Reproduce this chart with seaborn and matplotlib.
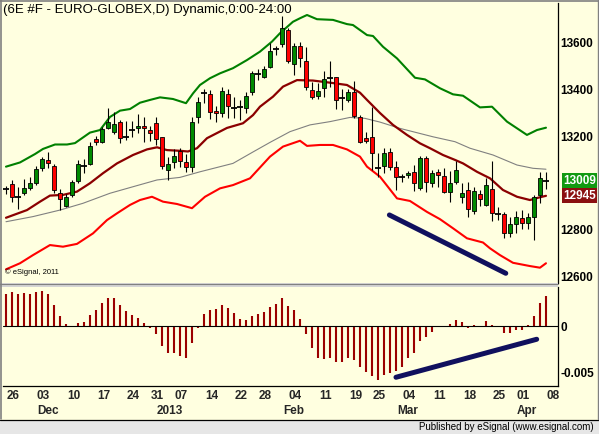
import matplotlib
matplotlib.use("Agg")
import matplotlib.pyplot as plt
import matplotlib.transforms as mtransforms
from matplotlib.lines import Line2D
from matplotlib.patches import Rectangle
import seaborn as sns

# --- daily candles, 26 Nov 2012 .. 08 Apr 2013 (bar index 0..90) ---
opens = [12973, 12994, 12941, 12956, 12980, 12999, 13063, 13099, 13073, 12958,
         12901, 12949, 13010, 13074, 13081, 13188, 13177, 13237, 13220, 13260,
         13198, 13227, 13237, 13243, 13227, 13258, 13196, 13056, 13089, 13137,
         13088, 13070, 13282, 13384, 13380, 13310, 13299, 13380, 13323, 13327,
         13320, 13389, 13466, 13453, 13496, 13573, 13596, 13656, 13510, 13587,
         13523, 13399, 13374, 13406, 13451, 13453, 13363, 13356, 13391, 13284,
         13191, 13196, 13063, 13073, 13134, 13067, 13024, 13033, 13046, 12977,
         13106, 12999, 13049, 13030, 12963, 13006, 12939, 12970, 12881, 12953,
         12906, 12973, 12866, 12867, 12787, 12823, 12851, 12830, 12856, 12949,
         13009]
highs = [12987, 13013, 12984, 13017, 13024, 13074, 13113, 13132, 13080, 12973,
         12952, 13013, 13099, 13103, 13174, 13201, 13241, 13320, 13306, 13270,
         13266, 13266, 13296, 13282, 13244, 13284, 13196, 13110, 13144, 13151,
         13125, 13282, 13367, 13403, 13399, 13331, 13410, 13403, 13367, 13356,
         13391, 13481, 13487, 13501, 13599, 13587, 13716, 13663, 13599, 13603,
         13584, 13434, 13430, 13480, 13523, 13456, 13401, 13403, 13438, 13291,
         13220, 13327, 13127, 13149, 13149, 13096, 13039, 13053, 13077, 13116,
         13116, 13056, 13059, 13063, 13053, 13096, 13001, 13006, 12984, 12970,
         13020, 13096, 12898, 12877, 12853, 12881, 12884, 12873, 12949, 13046,
         13046]
lows = [12953, 12920, 12887, 12949, 12970, 12991, 13053, 13063, 12956, 12884,
        12898, 12941, 13001, 13042, 13077, 13163, 13170, 13231, 13210, 13173,
        13184, 13196, 13216, 13177, 13180, 13163, 13059, 13013, 13063, 13070,
        13048, 13048, 13258, 13342, 13273, 13263, 13284, 13280, 13277, 13270,
        13299, 13377, 13441, 13449, 13492, 13549, 13584, 13513, 13463, 13498,
        13399, 13359, 13359, 13370, 13410, 13316, 13313, 13349, 13277, 13170,
        13170, 13056, 13024, 13044, 13056, 12970, 13006, 13023, 12967, 12970,
        12963, 12984, 12981, 12956, 12920, 12996, 12916, 12855, 12867, 12901,
        12901, 12838, 12841, 12763, 12767, 12784, 12801, 12801, 12756, 12913,
        12973]
closes = [12973, 12939, 12941, 12977, 12999, 13060, 13101, 13084, 12970, 12931,
          12941, 13004, 13080, 13074, 13160, 13174, 13230, 13260, 13252, 13192,
          13198, 13227, 13246, 13234, 13213, 13187, 13073, 13080, 13117, 13094,
          13067, 13260, 13346, 13384, 13306, 13299, 13394, 13330, 13323, 13327,
          13374, 13470, 13466, 13490, 13567, 13573, 13663, 13524, 13587, 13534,
          13410, 13370, 13396, 13444, 13451, 13356, 13363, 13389, 13287, 13177,
          13181, 13127, 13063, 13127, 13067, 13024, 13024, 13044, 12999, 13106,
          13006, 13041, 13034, 12963, 12999, 13056, 12958, 12887, 12967, 12930,
          12991, 12873, 12866, 12784, 12824, 12856, 12827, 12853, 12941, 13020,
          13009]

# --- envelope lines (bar index, price) ---
upper_x = [0, 2.33, 4.83, 6.17, 8.17, 10.17, 11.5, 12.33, 14, 15.67, 17.33, 19,
           20.67, 22.33, 24, 25.67, 27.83, 30, 31.17, 32.33, 34, 35.67, 37.83,
           40.17, 42.33, 44.33, 45.67, 47.83, 49, 50.17, 51.83, 54.5, 56.83,
           57.83, 60.17, 61.17, 62.83, 65.17, 68.17, 69.83, 72.33, 74.5, 76.17,
           79, 81, 83.5, 86.83, 88.5, 90]
upper_y = [13070, 13088, 13124, 13146, 13165, 13165, 13171, 13186, 13216, 13227,
           13283, 13310, 13317, 13344, 13356, 13367, 13360, 13342, 13384, 13420,
           13449, 13470, 13492, 13527, 13563, 13606, 13642, 13691, 13706, 13720,
           13702, 13699, 13681, 13677, 13634, 13630, 13584, 13534, 13451, 13444,
           13406, 13380, 13374, 13324, 13327, 13263, 13206, 13227, 13237]

ma_x = [0, 3.5, 5.67, 7.33, 9.5, 11.83, 14, 16.17, 18.5, 21.17, 23.5, 25.17,
        26.83, 29, 30.33, 31.83, 33.5, 36.83, 39.5, 41.17, 42.33, 44.5, 46.17,
        48.5, 51.17, 54, 56.83, 59, 60.17, 62.33, 64.5, 66.83, 69, 70.67, 72.83,
        74.83, 76.17, 78.5, 80.67, 82.83, 85.17, 87.33, 89, 90]
ma_y = [12851, 12884, 12920, 12946, 12949, 12963, 12999, 13042, 13084, 13120,
        13144, 13153, 13141, 13138, 13135, 13149, 13192, 13236, 13256, 13291,
        13327, 13370, 13413, 13441, 13439, 13430, 13420, 13387, 13356, 13300,
        13249, 13206, 13170, 13149, 13120, 13099, 13084, 13048, 13020, 12970,
        12941, 12927, 12939, 12945]

slow_x = [0, 4.5, 9, 12.83, 17.33, 21.17, 25.17, 29, 32.33, 37.83, 41.17, 44,
          47.33, 50.67, 54, 57.33, 59.83, 62.33, 65.67, 71.17, 74.83, 77.33,
          81.17, 85.17, 87.83, 90]
slow_y = [12834, 12856, 12884, 12913, 12956, 12984, 13013, 13024, 13048, 13084,
          13133, 13174, 13220, 13249, 13263, 13281, 13277, 13261, 13234, 13198,
          13177, 13149, 13120, 13077, 13063, 13059]

lower_x = [0, 2.33, 4.5, 7.33, 9.5, 11.83, 14.5, 16.83, 18.5, 20.67, 22.33,
           24.33, 26.17, 28.5, 31, 33.17, 35.67, 37.83, 40.67, 44, 46.17, 49,
           50.17, 52.33, 54.5, 56.83, 59, 60.17, 62.33, 65.17, 67.33, 70.17,
           72.33, 74.5, 76.83, 79.5, 80.67, 82.33, 84.5, 87.33, 89, 90]
lower_y = [12630, 12656, 12691, 12734, 12727, 12739, 12784, 12841, 12870, 12906,
           12927, 12941, 12920, 12910, 12892, 12941, 12977, 12991, 13020, 13113,
           13156, 13181, 13159, 13163, 13163, 13144, 13113, 13070, 13027, 12934,
           12923, 12876, 12845, 12806, 12763, 12745, 12720, 12691, 12658, 12644,
           12637, 12656]

# --- oscillator histogram ---
osc = [0.00343, 0.00364, 0.00343, 0.00350, 0.00343, 0.00364, 0.00375, 0.00343,
       0.00225, 0.00107, 0.00021, -0.00005, 0.00035, 0.00046, 0.00118, 0.00171,
       0.00249, 0.00297, 0.00297, 0.00225, 0.00161, 0.00118, 0.00082, 0.00035,
       -0.00025, -0.00089, -0.00211, -0.00286, -0.00292, -0.00318, -0.00339,
       -0.00185, -0.00018, 0.00128, 0.00171, 0.00182, 0.00225, 0.00190, 0.00136,
       0.00075, 0.00064, 0.00107, 0.00128, 0.00147, 0.00200, 0.00236, 0.00300,
       0.00214, 0.00171, 0.00072, -0.00089, -0.00239, -0.00339, -0.00353,
       -0.00346, -0.00382, -0.00382, -0.00346, -0.00364, -0.00442, -0.00489,
       -0.00532, -0.00578, -0.00525, -0.00506, -0.00482, -0.00436, -0.00346,
       -0.00286, -0.00161, -0.00121, -0.00061, -0.00014, -0.00014, 0.00018,
       0.00064, 0.00040, -0.00018, 0.00011, 0.00002, 0.00054, 0.00011, 0.00002,
       -0.00078, -0.00078, -0.00043, -0.00043, 0.00011, 0.00107, 0.00243,
       0.00321]

# --- hand drawn trend lines ---
price_trend_x = [63.9, 83.3]
price_trend_y = [12863, 12613]
osc_trend_x = [65.0, 88.45]
osc_trend_y = [-0.00549, -0.00142]

# --- axis labels ---
tick_bars = [0, 5, 10, 15, 20, 24, 28, 33, 38, 42, 47, 52, 57, 61, 66, 71, 76, 81, 85, 90]
tick_labels = ["26", "03", "10", "17", "24", "31", "07", "14", "22", "28",
               "04", "11", "19", "25", "04", "11", "18", "25", "01", "08"]
month_bars = [5, 25, 46, 65, 85]
month_labels = ["Dec", "2013", "Feb", "Mar", "Apr"]
price_ticks = [12600, 12800, 13200, 13400, 13600]
last_price = 13009
last_ma = 12945

BG = "#FFFFE0"
GREEN = "#008A00"
RED = "#FF0000"
MAROON = "#8B0000"

sns.set_style("white")
plt.rcParams["font.family"] = ["Liberation Sans", "DejaVu Sans"]

W, H = 599, 434
fig = plt.figure(figsize=(W / 100, H / 100), dpi=100)
fig.patch.set_facecolor(BG)


def fx(px):
    return px / W


def fy(py):
    return 1 - py / H


ax = fig.add_axes([fx(3), fy(283), fx(557.5) - fx(3), fy(3) - fy(283)])
ax2 = fig.add_axes([fx(3), fy(386), fx(557.5) - fx(3), fy(287) - fy(386)])

for a in (ax, ax2):
    a.set_facecolor(BG)
    for s in a.spines.values():
        s.set_visible(False)
    a.spines["right"].set_visible(True)
    a.spines["right"].set_color("black")
    a.spines["right"].set_linewidth(0.9)
    a.set_xlim(-0.5, 91.92)
    a.yaxis.tick_right()
    a.tick_params(axis="y", length=0, pad=2, labelsize=8.5, labelcolor="black")

# candles
for i in range(len(opens)):
    o, h, l, c = opens[i], highs[i], lows[i], closes[i]
    ax.vlines(i, l, h, color="black", lw=0.8, zorder=3)
    if o == c:
        ax.hlines(c, i - 0.42, i + 0.42, color="black", lw=1.3, zorder=4)
    else:
        col = GREEN if c > o else RED
        ax.add_patch(Rectangle((i - 0.4, min(o, c)), 0.8, abs(c - o),
                               fc=col, ec="black", lw=0.6, zorder=4))

sns.lineplot(x=upper_x, y=upper_y, ax=ax, color="#008000", lw=1.5, sort=False, estimator=None)
sns.lineplot(x=slow_x, y=slow_y, ax=ax, color="#808080", lw=0.8, sort=False, estimator=None)
sns.lineplot(x=ma_x, y=ma_y, ax=ax, color=MAROON, lw=1.6, sort=False, estimator=None)
sns.lineplot(x=lower_x, y=lower_y, ax=ax, color=RED, lw=1.5, sort=False, estimator=None)
ax.plot(price_trend_x, price_trend_y, color="#10105E", lw=3.6, solid_capstyle="round", zorder=5)

ax.set_ylim(12571.4, 13771.4)
ax.set_yticks(price_ticks)
ax.set_yticklabels([str(t) for t in price_ticks], fontweight="bold")
ax.set_xticks([])
ax.set_xlabel("")
ax.set_ylabel("")

ytr = mtransforms.blended_transform_factory(ax.transAxes, ax.transData)
ax.text(1.01, last_price, str(last_price), transform=ytr, color="white", fontsize=8.5,
        fontweight="bold", va="center", ha="left",
        bbox=dict(boxstyle="square,pad=0.12", fc="#119A11", ec="none"))
ax.text(1.01, last_ma, str(last_ma), transform=ytr, color="white", fontsize=8.5,
        fontweight="bold", va="center", ha="left",
        bbox=dict(boxstyle="square,pad=0.12", fc="#8B1010", ec="none"))

ax.text(0.003, 0.025, "\u00a9 eSignal, 2011", transform=ax.transAxes, fontsize=5.5,
        ha="left", va="bottom", color="black")
fig.text(fx(3), fy(10), "(6E #F - EURO-GLOBEX,D) Dynamic,0:00-24:00", fontsize=9.5,
         ha="left", va="center", color="black")

# oscillator
ax2.vlines(range(len(osc)), 0, osc, color="#9B0000", lw=1.5)
ax2.axhline(0, color="black", lw=0.8)
ax2.plot(osc_trend_x, osc_trend_y, color="#10105E", lw=3.6, solid_capstyle="round", zorder=5)
ax2.set_ylim(-0.006424, 0.004176)
ax2.set_yticks([0, -0.005])
ax2.set_yticklabels(["0", "-0.005"], fontweight="bold")
ax2.spines["bottom"].set_visible(True)
ax2.spines["bottom"].set_color("black")
ax2.spines["bottom"].set_linewidth(0.9)
ax2.set_xticks(tick_bars)
ax2.set_xticklabels([])
ax2.tick_params(axis="x", direction="out", length=3, width=0.8, color="black")

dtr = mtransforms.blended_transform_factory(ax2.transData, fig.transFigure)
for b, lab in zip(tick_bars, tick_labels):
    fig.text(b + 0.15, fy(396), lab, transform=dtr, fontsize=8.5, fontweight="bold",
             ha="left", va="center")
for b, lab in zip(month_bars, month_labels):
    fig.text(b + 0.15, fy(411), lab, transform=dtr, fontsize=8.5, fontweight="bold",
             ha="left", va="center")

# frame, separator and footer
fig.add_artist(Rectangle((0, fy(287)), fx(557.5), 4 / H, transform=fig.transFigure,
                         fc="#D4D4D4", ec="none"))
fig.add_artist(Line2D([0, fx(557.5)], [fy(283.5), fy(283.5)], transform=fig.transFigure,
                      color="#808080", lw=0.8))
fig.add_artist(Rectangle((0, 0), 1, 14 / H, transform=fig.transFigure, fc="#E6E6E6", ec="none"))
fig.add_artist(Line2D([0, 1], [fy(419.5), fy(419.5)], transform=fig.transFigure, color="black", lw=0.9))
fig.add_artist(Line2D([fx(0.8), fx(0.8)], [fy(419), 1], transform=fig.transFigure, color="#808080", lw=1.2))
fig.add_artist(Line2D([0, 1], [fy(0.8), fy(0.8)], transform=fig.transFigure, color="#808080", lw=1.2))
fig.add_artist(Line2D([fx(597.5), fx(597.5)], [fy(419), 1], transform=fig.transFigure, color="#808080", lw=1.0))
fig.text(fx(594), fy(427), "Published by eSignal (www.esignal.com)", fontsize=7,
         ha="right", va="center", color="black")

fig.savefig("out.png", dpi=100, facecolor=fig.get_facecolor())
